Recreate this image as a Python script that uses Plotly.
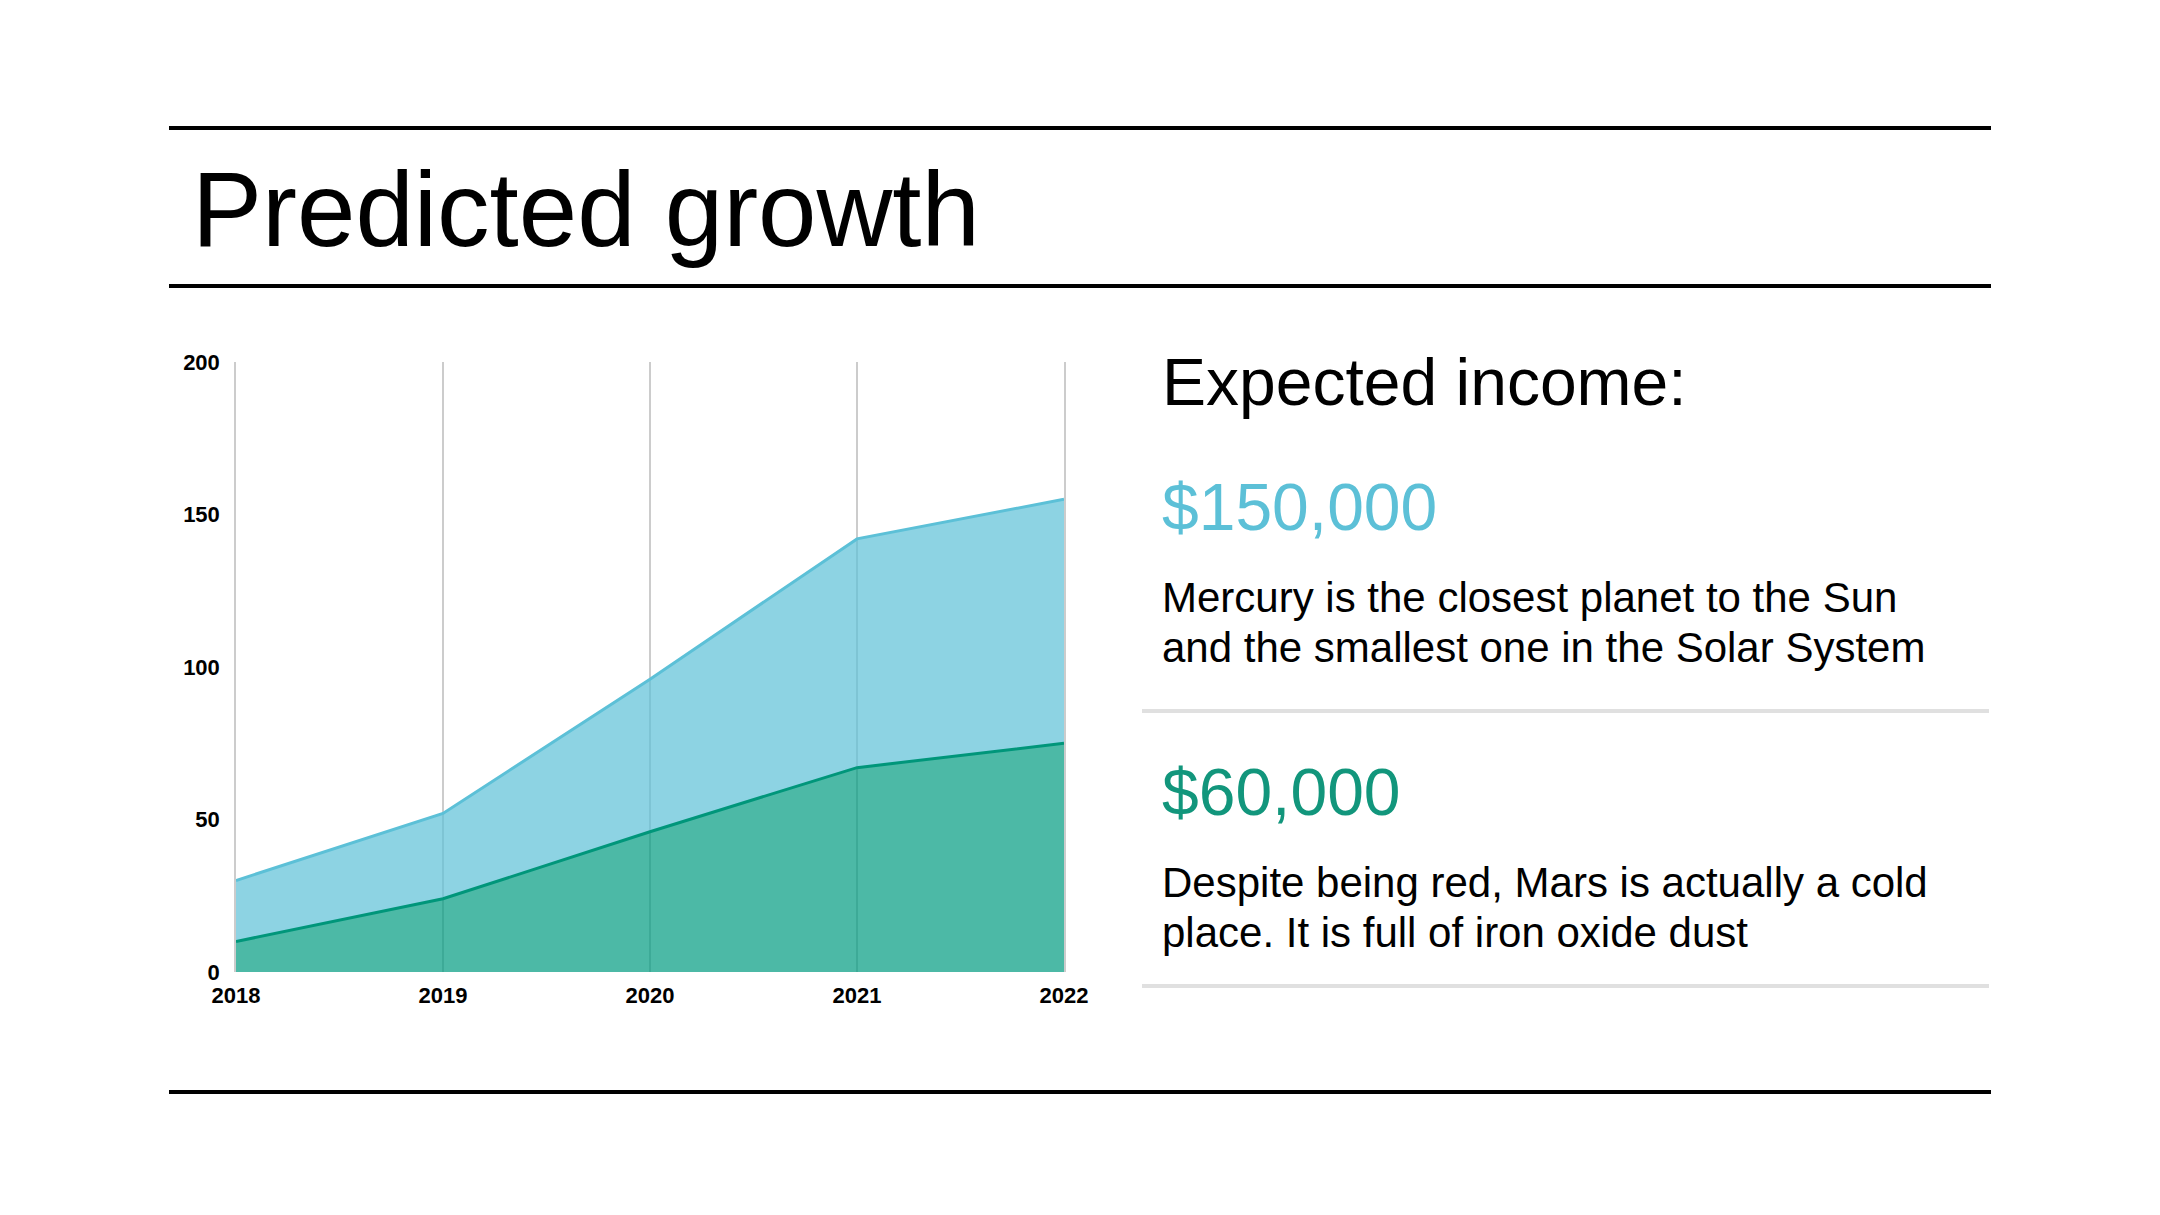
import plotly.graph_objects as go

years = [2018, 2019, 2020, 2021, 2022]
green_values = [10, 24, 46, 67, 75]      # lower series
blue_values = [20, 28, 50, 75, 80]       # stacked on top (totals 30, 52, 96, 142, 155)
y_ticks = [0, 50, 100, 150, 200]

W, H = 2160, 1215
PL, PR, PT, PB = 236, 1064, 362, 972  # plot area in pixels

GREEN_LINE = "rgb(0,150,122)"
GREEN_FILL = "rgba(0,155,128,0.70)"
BLUE_LINE = "rgb(92,192,215)"
BLUE_FILL = "rgba(92,192,215,0.70)"
FONT = "Liberation Sans, Arial, sans-serif"


def px(x):
    return (x - PL) / (PR - PL)


def py(y):
    return (PB - y) / (PB - PT)


fig = go.Figure()
fig.add_trace(go.Scatter(
    x=years, y=green_values, mode="lines", stackgroup="s",
    line=dict(color=GREEN_LINE, width=3), fillcolor=GREEN_FILL,
    hoverinfo="skip", name="Green"))
fig.add_trace(go.Scatter(
    x=years, y=blue_values, mode="lines", stackgroup="s",
    line=dict(color=BLUE_LINE, width=3), fillcolor=BLUE_FILL,
    hoverinfo="skip", name="Blue"))

shapes = []
# black horizontal rules
for yy in (128, 286, 1092):
    shapes.append(dict(type="line", xref="paper", yref="paper",
                       x0=px(169), x1=px(1991), y0=py(yy), y1=py(yy),
                       line=dict(color="black", width=4)))
# gray dividers
for yy in (711, 986):
    shapes.append(dict(type="line", xref="paper", yref="paper",
                       x0=px(1142), x1=px(1989), y0=py(yy), y1=py(yy),
                       line=dict(color="#E0E0E0", width=4)))

annotations = []


def txt(text, x, baseline, size, color="black"):
    annotations.append(dict(
        text=text, xref="paper", yref="paper", x=px(x), y=py(baseline - 0.35 * size),
        xanchor="left", yanchor="middle", showarrow=False,
        font=dict(family=FONT, size=size, color=color)))


txt("Predicted growth", 190, 246, 105)
txt("Expected income:", 1160, 405, 66)
txt("$150,000", 1160, 530, 66, BLUE_LINE)
txt("Mercury is the closest planet to the Sun", 1160, 612, 42)
txt("and the smallest one in the Solar System", 1160, 662, 42)
txt("$60,000", 1160, 815, 66, "rgb(18,150,124)")
txt("Despite being red, Mars is actually a cold", 1160, 897, 42)
txt("place. It is full of iron oxide dust", 1160, 947, 42)

fig.update_layout(
    width=W, height=H,
    margin=dict(l=PL, r=W - PR, t=PT, b=H - PB, pad=0),
    paper_bgcolor="white", plot_bgcolor="white",
    showlegend=False,
    shapes=shapes, annotations=annotations,
    xaxis=dict(range=[2018, 2022], tickvals=years, ticktext=[str(y) for y in years],
               showgrid=True, gridcolor="#CCCCCC", gridwidth=1.5,
               zeroline=False, showline=False, ticks="",
               ticklabelstandoff=8,
               tickfont=dict(family=FONT, size=22, color="black", weight="bold")),
    yaxis=dict(range=[0, 200], tickvals=y_ticks,
               showgrid=False, zeroline=False,
               showline=True, linecolor="#CCCCCC", linewidth=1.5, mirror=True,
               ticks="", ticklabelstandoff=10,
               tickfont=dict(family=FONT, size=22, color="black", weight="bold")),
)

fig.write_html("out.html")
